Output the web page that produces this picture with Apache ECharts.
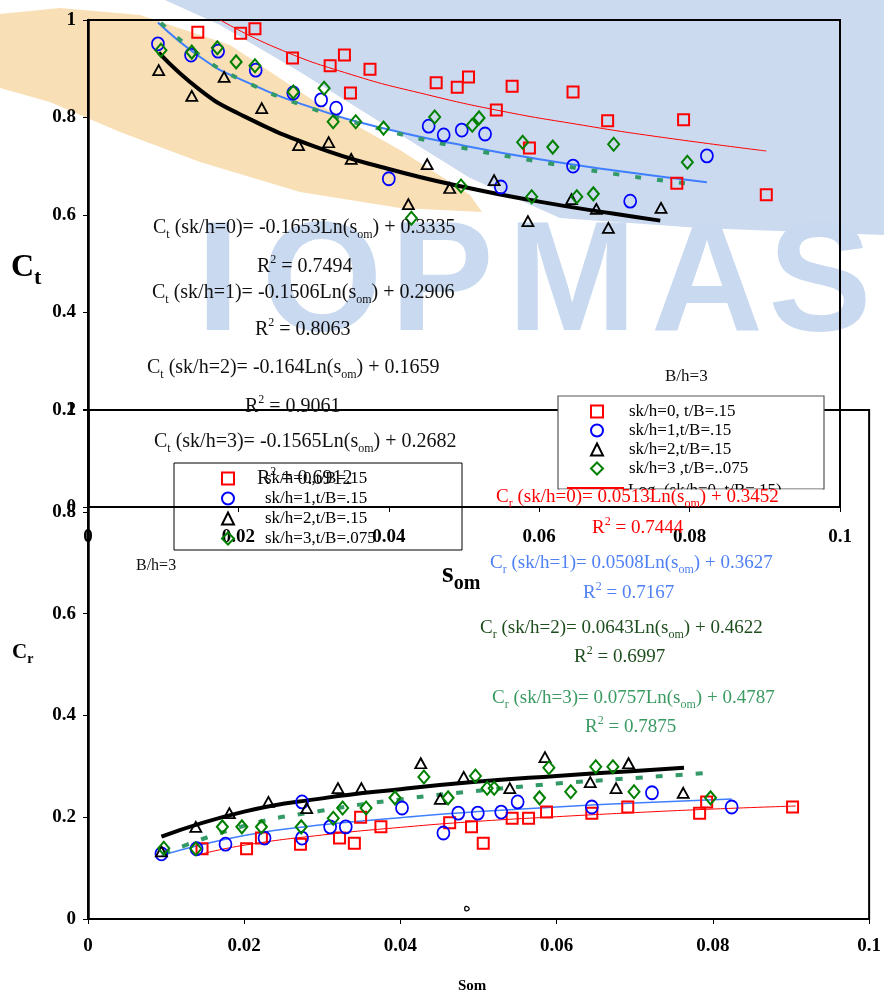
<!DOCTYPE html>
<html>
<head>
<meta charset="utf-8">
<style>
  html, body { margin: 0; padding: 0; background: #fff; }
  #chart { width: 884px; height: 993px; }
</style>
<script src="https://cdn.jsdelivr.net/npm/echarts@6/dist/echarts.min.js"></script>
</head>
<body>
<div id="chart"></div>
<script>
// s_om values (same points in both plots)
const sk0X = [0.0146, 0.0203, 0.0222, 0.0272, 0.0322, 0.0341, 0.0349, 0.0375, 0.0463, 0.0491, 0.0506, 0.0543, 0.0564, 0.0587, 0.0645, 0.0691, 0.0783, 0.0792, 0.0902];
const sk0Ct = [0.975, 0.973, 0.982, 0.922, 0.906, 0.928, 0.850, 0.899, 0.871, 0.862, 0.883, 0.815, 0.864, 0.737, 0.852, 0.793, 0.665, 0.795, 0.641];
const sk0Cr = [0.138, 0.138, 0.159, 0.147, 0.159, 0.149, 0.200, 0.181, 0.189, 0.181, 0.149, 0.198, 0.198, 0.210, 0.208, 0.220, 0.208, 0.230, 0.220];

const sk1XCt = [0.0093, 0.0137, 0.0173, 0.0223, 0.0273, 0.0310, 0.0330, 0.0400, 0.0453, 0.0473, 0.0497, 0.0528, 0.0549, 0.0645, 0.0721, 0.0823];
const sk1Ct = [0.951, 0.928, 0.936, 0.897, 0.850, 0.836, 0.819, 0.674, 0.782, 0.764, 0.774, 0.766, 0.657, 0.700, 0.628, 0.721];
const sk1XCr = [0.0094, 0.0139, 0.0176, 0.0226, 0.0274, 0.0274, 0.0310, 0.0330, 0.0402, 0.0455, 0.0474, 0.0499, 0.0529, 0.0550, 0.0645, 0.0722, 0.0824];
const sk1Cr = [0.128, 0.138, 0.147, 0.159, 0.230, 0.159, 0.181, 0.181, 0.218, 0.169, 0.208, 0.208, 0.210, 0.230, 0.220, 0.248, 0.220];

const sk2X = [0.0094, 0.0138, 0.0181, 0.0231, 0.0280, 0.0320, 0.0350, 0.0426, 0.0451, 0.0481, 0.0540, 0.0585, 0.0643, 0.0676, 0.0692, 0.0762];
const sk2Ct = [0.897, 0.844, 0.883, 0.819, 0.743, 0.749, 0.715, 0.622, 0.704, 0.655, 0.671, 0.587, 0.632, 0.612, 0.573, 0.614];
const sk2Cr = [0.133, 0.181, 0.208, 0.230, 0.218, 0.257, 0.257, 0.306, 0.236, 0.279, 0.257, 0.318, 0.269, 0.257, 0.306, 0.248];

const sk3X = [0.0097, 0.0138, 0.0172, 0.0197, 0.0222, 0.0273, 0.0314, 0.0326, 0.0356, 0.0393, 0.0430, 0.0461, 0.0496, 0.0511, 0.0520, 0.0578, 0.0590, 0.0618, 0.0650, 0.0672, 0.0699, 0.0797];
const sk3Ct = [0.938, 0.934, 0.943, 0.914, 0.906, 0.852, 0.860, 0.791, 0.791, 0.778, 0.593, 0.801, 0.659, 0.784, 0.799, 0.749, 0.637, 0.739, 0.637, 0.643, 0.745, 0.708];
const sk3Cr = [0.139, 0.138, 0.181, 0.181, 0.181, 0.181, 0.198, 0.218, 0.218, 0.238, 0.279, 0.238, 0.281, 0.257, 0.257, 0.238, 0.297, 0.250, 0.299, 0.299, 0.250, 0.238];

// trend lines, points
const fitCt0X = [0.0176, 0.025, 0.035, 0.045, 0.055, 0.065, 0.075, 0.0902];
const fitCt0 = [1.0, 0.943, 0.888, 0.847, 0.813, 0.786, 0.762, 0.731];
const fitCt1X = [0.0093, 0.015, 0.02, 0.03, 0.04, 0.05, 0.06, 0.07, 0.0823];
const fitCt1 = [0.995, 0.923, 0.880, 0.819, 0.775, 0.742, 0.714, 0.691, 0.667];
const fitCt2X = [0.0094, 0.015, 0.02, 0.03, 0.04, 0.05, 0.06, 0.07, 0.0761];
const fitCt2 = [0.933, 0.855, 0.808, 0.741, 0.694, 0.657, 0.627, 0.602, 0.588];
const fitCt3X = [0.0097, 0.015, 0.02, 0.03, 0.04, 0.05, 0.06, 0.07, 0.0797];
const fitCt3 = [0.994, 0.926, 0.880, 0.817, 0.772, 0.737, 0.709, 0.684, 0.664];

const fitCr0X = [0.0146, 0.02, 0.03, 0.04, 0.05, 0.06, 0.07, 0.08, 0.0906];
const fitCr0 = [0.128, 0.145, 0.165, 0.180, 0.192, 0.201, 0.209, 0.216, 0.222];
const fitCr1X = [0.0094, 0.02, 0.03, 0.04, 0.05, 0.06, 0.07, 0.0824];
const fitCr1 = [0.125, 0.164, 0.185, 0.199, 0.211, 0.220, 0.228, 0.236];
const fitCr2X = [0.0094, 0.02, 0.03, 0.04, 0.05, 0.06, 0.07, 0.0763];
const fitCr2 = [0.162, 0.211, 0.237, 0.255, 0.270, 0.281, 0.291, 0.297];
const fitCr3X = [0.0097, 0.02, 0.03, 0.04, 0.05, 0.06, 0.07, 0.0793];
const fitCr3 = [0.128, 0.183, 0.213, 0.235, 0.252, 0.266, 0.277, 0.287];

const topNames = ['sk/h=0, t/B=.15', 'sk/h=1,t/B=.15', 'sk/h=2,t/B=.15', 'sk/h=3 ,t/B=..075'];
const bottomNames = ['sk/h=0,t/B=.15', 'sk/h=1,t/B=.15', 'sk/h=2,t/B=.15', 'sk/h=3,t/B=.075'];

const serif = 'Liberation Serif';
const pair = (xs, ys) => xs.map((x, i) => [x, ys[i]]);

const markers = [
  { symbol: 'rect', symbolSize: 11, color: '#ff0000', bw: 2 },
  { symbol: 'circle', symbolSize: [12, 13], color: '#0000ff', bw: 1.8 },
  { symbol: 'triangle', symbolSize: [11, 10], color: '#000000', bw: 1.8 },
  { symbol: 'diamond', symbolSize: [11, 13], color: '#008000', bw: 2 }
];

function scatter(name, grid, data, m) {
  return {
    name: name, type: 'scatter', xAxisIndex: grid, yAxisIndex: grid, data: data,
    symbol: markers[m].symbol, symbolSize: markers[m].symbolSize,
    itemStyle: { color: 'rgba(0,0,0,0)', borderColor: markers[m].color, borderWidth: markers[m].bw, opacity: 1 },
    z: 3
  };
}

function fit(name, grid, data, style) {
  return {
    name: name, type: 'line', xAxisIndex: grid, yAxisIndex: grid, data: data,
    smooth: true, showSymbol: false, lineStyle: style, z: 2
  };
}

function xAx(grid, margin) {
  return {
    type: 'value', gridIndex: grid, min: 0, max: 0.1, interval: 0.02,
    axisLine: { show: true, onZero: false, lineStyle: { color: '#000', width: 2 } },
    axisTick: { show: true, length: 5, lineStyle: { color: '#000', width: 1 } },
    axisLabel: { margin: margin, fontFamily: serif, fontWeight: 'bold', fontSize: 19, color: '#000' },
    splitLine: { show: false }
  };
}

function yAx(grid) {
  return {
    type: 'value', gridIndex: grid, min: 0, max: 1, interval: 0.2,
    axisLine: { show: true, onZero: false, lineStyle: { color: '#000', width: 2.5 } },
    axisTick: { show: true, length: 5, lineStyle: { color: '#000', width: 1 } },
    axisLabel: { margin: 12, fontFamily: serif, fontWeight: 'bold', fontSize: 19, color: '#000' },
    splitLine: { show: false }
  };
}

// rich text with sub / superscripts
function richText(x, y, text, size, color, extra) {
  const small = Math.round(size * 0.62);
  return Object.assign({
    type: 'text', x: x, y: y, z: 10,
    style: {
      text: text, align: 'left', verticalAlign: 'middle', textAlign: 'left', textVerticalAlign: 'middle',
      fontFamily: serif, fontSize: size, fill: color,
      rich: {
        n: { fontFamily: serif, fontSize: size, fill: color, lineHeight: Math.round(size * 1.3) },
        s: { fontFamily: serif, fontSize: small, fill: color, verticalAlign: 'bottom', lineHeight: small },
        p: { fontFamily: serif, fontSize: small, fill: color, verticalAlign: 'top', lineHeight: small },
        bc: { fontFamily: serif, fontWeight: 'bold', fontSize: size, fill: color, lineHeight: Math.round(size * 1.3) },
        bs: { fontFamily: serif, fontWeight: 'bold', fontSize: Math.round(size * 0.68), fill: color, verticalAlign: 'bottom', lineHeight: Math.round(size * 0.68) }
      }
    }
  }, extra || {});
}

function plain(x, y, text, size, color, weight) {
  return {
    type: 'text', x: x, y: y, z: 10,
    style: {
      text: text, align: 'left', verticalAlign: 'middle', textAlign: 'left', textVerticalAlign: 'middle',
      fontFamily: serif, fontSize: size, fontWeight: weight || 'normal', fill: color
    }
  };
}

const wm = '#c9d9f0';
const letters = [['I', 218], ['O', 322], ['P', 442], ['M', 572], ['A', 707], ['S', 820]];

const graphics = [
  // faded logo behind the top plot
  { type: 'polygon', z: -10, shape: { points: [[165, 0], [884, 0], [884, 235], [700, 228], [560, 218], [470, 178], [380, 122], [300, 72], [220, 25]] }, style: { fill: '#cbdaef' } },
  { type: 'polygon', z: -9, shape: { points: [[0, 14], [60, 8], [140, 15], [230, 45], [320, 105], [400, 150], [470, 195], [482, 212], [400, 208], [300, 192], [200, 162], [120, 132], [50, 102], [0, 88]] }, style: { fill: '#f9dfb5' } }
];
letters.forEach(function (l) {
  graphics.push({
    type: 'text', x: l[1], y: 287, z: -8,
    style: { text: l[0], align: 'center', verticalAlign: 'middle', textAlign: 'center', textVerticalAlign: 'middle',
      fontFamily: 'Liberation Sans', fontWeight: 'bold', fontSize: 155, fill: wm }
  });
});

// legend boxes
graphics.push(
  { type: 'rect', z: 3, z2: 0, shape: { x: 558, y: 396, width: 266, height: 93 }, style: { fill: '#fff', stroke: '#555', lineWidth: 1.2 } },
  { type: 'text', x: 628, y: 491, z: 3, z2: 1, style: { text: 'Log. (sk/h=0, t/B=.15)', align: 'left', verticalAlign: 'middle', textAlign: 'left', textVerticalAlign: 'middle', fontFamily: serif, fontSize: 17, fill: '#000' } },
  { type: 'rect', z: 3, z2: 2, shape: { x: 560, y: 489.6, width: 262, height: 9 }, style: { fill: '#fff' } },
  { type: 'line', z: 3, z2: 3, shape: { x1: 567, y1: 488, x2: 624, y2: 488 }, style: { stroke: '#ff0000', lineWidth: 2 } },
  { type: 'rect', z: 5, shape: { x: 174, y: 463, width: 288, height: 87 }, style: { fill: 'none', stroke: '#000', lineWidth: 1 } }
);

// Ct equations
graphics.push(
  richText(153, 228, '{n|C}{s|t}{n| (sk/h=0)= -0.1653Ln(s}{s|om}{n|) + 0.3335}', 20, '#111'),
  richText(257, 267, '{n|R}{p|2}{n| = 0.7494}', 20, '#111'),
  richText(152, 293, '{n|C}{s|t}{n| (sk/h=1)= -0.1506Ln(s}{s|om}{n|) + 0.2906}', 20, '#111'),
  richText(255, 330, '{n|R}{p|2}{n| = 0.8063}', 20, '#111'),
  richText(147, 368, '{n|C}{s|t}{n| (sk/h=2)= -0.164Ln(s}{s|om}{n|) + 0.1659}', 20, '#111'),
  richText(245, 407, '{n|R}{p|2}{n| = 0.9061}', 20, '#111'),
  richText(154, 442, '{n|C}{s|t}{n| (sk/h=3)= -0.1565Ln(s}{s|om}{n|) + 0.2682}', 20, '#111'),
  richText(257, 479, '{n|R}{p|2}{n| = 0.6912}', 20, '#111'),
  plain(665, 377, 'B/h=3', 17, '#111'),
  plain(136, 566, 'B/h=3', 16, '#111')
);

// Cr equations
graphics.push(
  richText(496, 497, '{n|C}{s|r}{n| (sk/h=0)= 0.0513Ln(s}{s|om}{n|) + 0.3452}', 19, '#ff0000'),
  richText(592, 528, '{n|R}{p|2}{n| = 0.7444}', 19, '#ff0000'),
  richText(490, 563, '{n|C}{s|r}{n| (sk/h=1)= 0.0508Ln(s}{s|om}{n|) + 0.3627}', 19, '#4f80f5'),
  richText(583, 593, '{n|R}{p|2}{n| = 0.7167}', 19, '#4f80f5'),
  richText(480, 628, '{n|C}{s|r}{n| (sk/h=2)= 0.0643Ln(s}{s|om}{n|) + 0.4622}', 19, '#1e4d1e'),
  richText(574, 657, '{n|R}{p|2}{n| = 0.6997}', 19, '#1e4d1e'),
  richText(492, 698, '{n|C}{s|r}{n| (sk/h=3)= 0.0757Ln(s}{s|om}{n|) + 0.4787}', 19, '#3a9a62'),
  richText(585, 727, '{n|R}{p|2}{n| = 0.7875}', 19, '#3a9a62')
);

// axis names
graphics.push(
  richText(11, 268, '{bc|C}{bs|t}', 32, '#000'),
  richText(442, 574, '{bc|s}{bs|om}', 30, '#000'),
  richText(12, 653, '{bc|C}{bs|r}', 21, '#000'),
  plain(458, 986, 'Som', 15, '#000', 'bold'),
  plain(463, 907, 'ه', 15, '#000')
);

const legendText = { fontFamily: serif, fontSize: 17, color: '#000' };

const option = {
  animation: false,
  backgroundColor: '#fff',
  grid: [
    { left: 88, top: 20, width: 752, height: 487, show: true, borderColor: '#000', borderWidth: 2, backgroundColor: 'transparent' },
    { left: 88, top: 410, width: 784, height: 509, show: true, borderColor: '#000', borderWidth: 2, backgroundColor: 'transparent' }
  ],
  xAxis: [xAx(0, 21), xAx(1, 18)],
  yAxis: [yAx(0), yAx(1)],
  legend: [
    {
      data: topNames, orient: 'vertical', left: 590, top: 403, itemWidth: 12, itemHeight: 12, itemGap: 2,
      padding: 0, selectedMode: false, textStyle: Object.assign({ padding: [0, 0, 0, 21] }, legendText)
    },
    {
      data: bottomNames, orient: 'vertical', left: 221, top: 470, itemWidth: 12, itemHeight: 12, itemGap: 3,
      padding: 0, selectedMode: false, textStyle: Object.assign({ padding: [0, 0, 0, 26] }, legendText)
    }
  ],
  graphic: { elements: graphics },
  series: [
    fit('fitCt0', 0, pair(fitCt0X, fitCt0), { color: '#ff0000', width: 1 }),
    fit('fitCt1', 0, pair(fitCt1X, fitCt1), { color: '#3f7fff', width: 2 }),
    fit('fitCt2', 0, pair(fitCt2X, fitCt2), { color: '#000', width: 4 }),
    fit('fitCt3', 0, pair(fitCt3X, fitCt3), { color: '#339966', width: 4, type: [6, 16] }),
    scatter(topNames[0], 0, pair(sk0X, sk0Ct), 0),
    scatter(topNames[1], 0, pair(sk1XCt, sk1Ct), 1),
    scatter(topNames[2], 0, pair(sk2X, sk2Ct), 2),
    scatter(topNames[3], 0, pair(sk3X, sk3Ct), 3),

    fit('fitCr0', 1, pair(fitCr0X, fitCr0), { color: '#ff0000', width: 1 }),
    fit('fitCr1', 1, pair(fitCr1X, fitCr1), { color: '#3f7fff', width: 1.5 }),
    fit('fitCr2', 1, pair(fitCr2X, fitCr2), { color: '#000', width: 4 }),
    fit('fitCr3', 1, pair(fitCr3X, fitCr3), { color: '#339966', width: 4, type: [7, 13] }),
    scatter(bottomNames[0], 1, pair(sk0X, sk0Cr), 0),
    scatter(bottomNames[1], 1, pair(sk1XCr, sk1Cr), 1),
    scatter(bottomNames[2], 1, pair(sk2X, sk2Cr), 2),
    scatter(bottomNames[3], 1, pair(sk3X, sk3Cr), 3)
  ]
};

const chart = echarts.init(document.getElementById('chart'));
chart.setOption(option);
</script>
</body>
</html>
